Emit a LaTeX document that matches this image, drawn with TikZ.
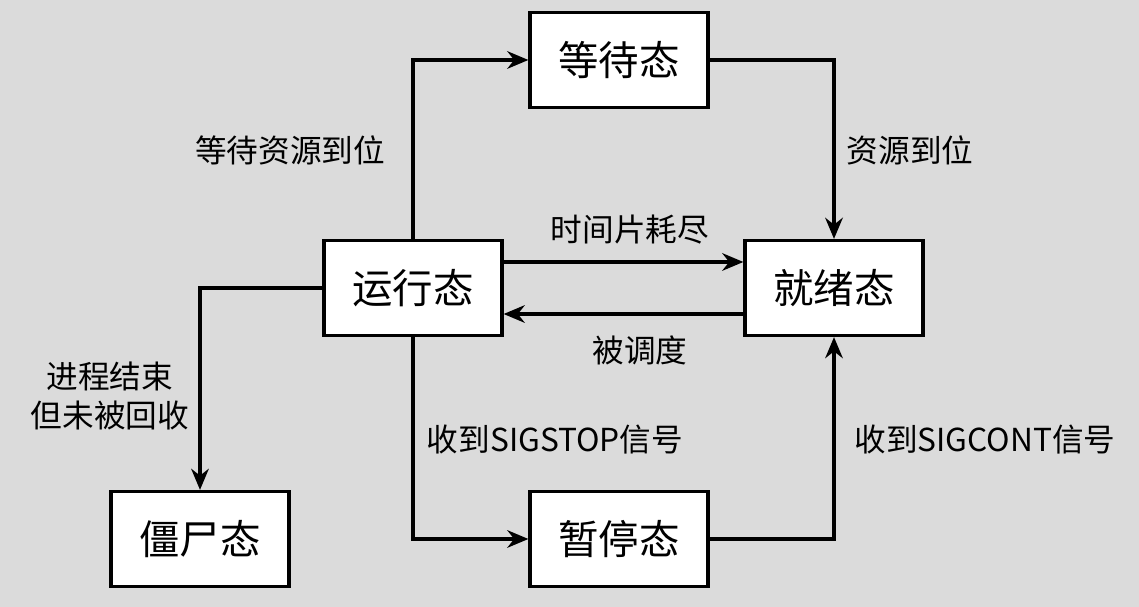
\documentclass[tikz,border=0pt]{standalone}
\usepackage{fontspec}
\setmainfont{Noto Sans CJK SC}
\usetikzlibrary{arrows.meta}
\tikzset{
	state/.style={draw, line width=0.9pt, fill=white!0, minimum width=1.78cm, minimum height=0.95cm, font=\fontsize{11.5}{13}\selectfont, inner sep=0pt},
	trans/.style={-{Stealth[length=6pt,width=5pt]}, line width=0.9pt},
	lbl/.style={font=\fontsize{9}{11}\selectfont, align=center}
}
\begin{document}
\begin{tikzpicture}[x=0.01cm,y=-0.01cm]
	\fill[gray!28] (0,0) rectangle (1139,607);
	\useasboundingbox (0,0) rectangle (1139,607);
	
	\node[state] (wait) at (619,60) {等待态};
	\node[state] (run) at (413,288) {运行态};
	\node[state] (ready) at (834,288) {就绪态};
	\node[state] (zombie) at (200,539) {僵尸态};
	\node[state] (stop) at (619,539) {暂停态};
	
	\draw[trans] (run.north) |- (wait.west);
	\draw[trans] (wait.east) -| (ready.north);
	\draw[trans] ([yshift=0.26cm]run.east) -- ([yshift=0.26cm]ready.west);
	\draw[trans] ([yshift=-0.26cm]ready.west) -- ([yshift=-0.26cm]run.east);
	\draw[trans] (run.west) -| (zombie.north);
	\draw[trans] (run.south) |- (stop.west);
	\draw[trans] (stop.east) -| (ready.south);
	
	\node[lbl] (l1) at (290,150) {等待资源到位};
	\node[lbl] (l2) at (910,150) {资源到位};
	\node[lbl] (l3) at (630,230) {时间片耗尽};
	\node[lbl] (l4) at (640,350) {被调度};
	\node[lbl] (l5) at (110,396) {进程结束\\但未被回收};
	\node[lbl] (l6) at (555,440) {收到SIGSTOP信号};
	\node[lbl] (l7) at (985,440) {收到SIGCONT信号};
\end{tikzpicture}
\end{document}
